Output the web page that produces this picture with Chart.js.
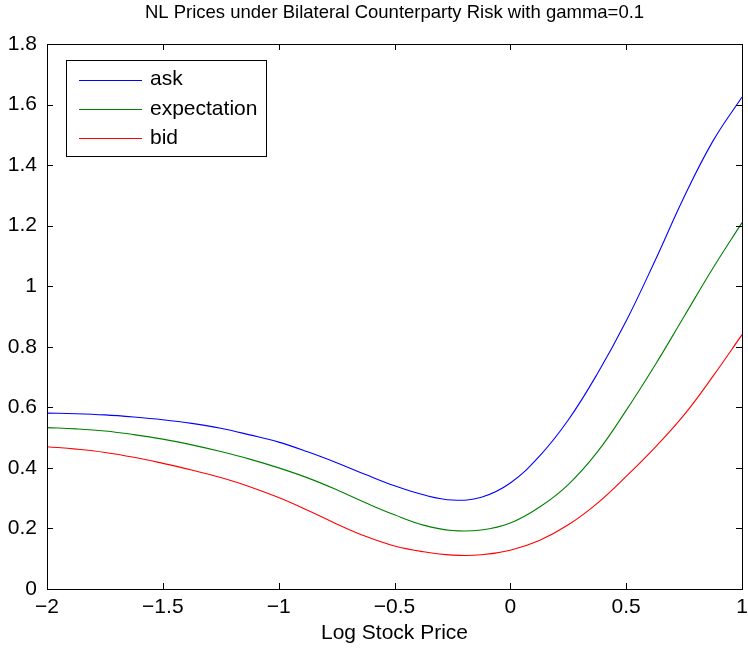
<!DOCTYPE html>
<html>
<head>
<meta charset="utf-8">
<script src="https://cdn.jsdelivr.net/npm/chart.js@4/dist/chart.umd.min.js"></script>
<style>
  html, body { margin: 0; padding: 0; background: #fff; }
  #wrap { width: 748px; height: 649px; }
</style>
</head>
<body>
<div id="wrap"><canvas id="chart" width="748" height="649"></canvas></div>
<script>
// log stock price grid
const logPrice = [-2, -1.875, -1.75, -1.625, -1.5, -1.375, -1.25, -1.125, -1,
  -0.875, -0.75, -0.625, -0.5, -0.375, -0.25, -0.125, 0,
  0.125, 0.25, 0.375, 0.5, 0.625, 0.75, 0.875, 1];

const askPrice = [0.581, 0.579, 0.575, 0.568, 0.559, 0.547, 0.531, 0.509, 0.485,
  0.453, 0.417, 0.378, 0.341, 0.311, 0.294, 0.303, 0.350,
  0.438, 0.558, 0.710, 0.885, 1.085, 1.295, 1.480, 1.625];

const expPrice = [0.533, 0.529, 0.522, 0.510, 0.495, 0.476, 0.454, 0.429, 0.400,
  0.367, 0.328, 0.285, 0.245, 0.211, 0.193, 0.195, 0.218,
  0.270, 0.345, 0.452, 0.590, 0.740, 0.900, 1.060, 1.210];

const bidPrice = [0.470, 0.462, 0.451, 0.435, 0.415, 0.393, 0.368, 0.338, 0.302,
  0.260, 0.215, 0.174, 0.142, 0.123, 0.112, 0.113, 0.128,
  0.160, 0.212, 0.283, 0.372, 0.468, 0.575, 0.703, 0.840];

const seriesNames = ['ask', 'expectation', 'bid'];
const seriesColors = ['#0000ff', '#008000', '#ff0000'];
const titleText = 'NL Prices under Bilateral Counterparty Risk with gamma=0.1';
const xTitle = 'Log Stock Price';

const FONT = '"Liberation Sans", Arial, Helvetica, sans-serif';

function toPoints(ys) {
  return logPrice.map((x, i) => ({ x: x, y: ys[i] }));
}

function fmt(v) {
  const s = String(Number(v.toFixed(2)));
  return s.replace('-', '\u2212');
}

// matlab style box: frame, inward ticks on all sides, title, legend
const matlabAxes = {
  id: 'matlabAxes',
  afterDraw(chart) {
    const ctx = chart.ctx;
    const a = chart.chartArea;
    const xs = chart.scales.x, ys = chart.scales.y;
    const tl = 6;
    ctx.save();
    ctx.strokeStyle = '#000';
    ctx.lineWidth = 1;
    ctx.beginPath();
    xs.ticks.forEach(t => {
      const px = Math.round(xs.getPixelForValue(t.value)) + 0.5;
      ctx.moveTo(px, a.bottom); ctx.lineTo(px, a.bottom - tl);
      ctx.moveTo(px, a.top); ctx.lineTo(px, a.top + tl);
    });
    ys.ticks.forEach(t => {
      const py = Math.round(ys.getPixelForValue(t.value)) + 0.5;
      ctx.moveTo(a.left, py); ctx.lineTo(a.left + tl, py);
      ctx.moveTo(a.right, py); ctx.lineTo(a.right - tl, py);
    });
    ctx.stroke();
    ctx.strokeRect(Math.round(a.left) + 0.5, Math.round(a.top) + 0.5,
      Math.round(a.right - a.left), Math.round(a.bottom - a.top));

    // title
    ctx.fillStyle = '#000';
    ctx.font = '18.5px ' + FONT;
    ctx.textAlign = 'center';
    ctx.textBaseline = 'middle';
    ctx.fillText(titleText, (a.left + a.right) / 2, 13);

    // legend
    const bx = Math.round(a.left) + 19, by = Math.round(a.top) + 16, bw = 200, bh = 96;
    ctx.fillStyle = '#fff';
    ctx.fillRect(bx, by, bw, bh);
    ctx.strokeRect(bx + 0.5, by + 0.5, bw, bh);
    ctx.font = '21px ' + FONT;
    ctx.textAlign = 'left';
    chart.data.datasets.forEach((ds, i) => {
      const ly = by + 19.5 + i * 29.3;
      ctx.strokeStyle = ds.borderColor;
      ctx.beginPath();
      ctx.moveTo(bx + 13, Math.round(ly) + 0.5);
      ctx.lineTo(bx + 76, Math.round(ly) + 0.5);
      ctx.stroke();
      ctx.fillStyle = '#000';
      ctx.fillText(ds.label, bx + 84, ly);
    });
    ctx.restore();
  }
};

new Chart(document.getElementById('chart'), {
  type: 'line',
  data: {
    datasets: [askPrice, expPrice, bidPrice].map((ys, i) => ({
      label: seriesNames[i],
      data: toPoints(ys),
      borderColor: seriesColors[i],
      borderWidth: 1.1,
      pointRadius: 0,
      fill: false,
      tension: 0.4
    }))
  },
  options: {
    responsive: false,
    animation: false,
    layout: { autoPadding: false, padding: { top: 44, right: 6, left: 0, bottom: 0 } },
    plugins: {
      legend: { display: false },
      tooltip: { enabled: false },
      title: { display: false }
    },
    scales: {
      x: {
        type: 'linear',
        min: -2,
        max: 1,
        grid: { display: false, drawTicks: false },
        border: { display: false },
        afterFit(scale) {
          scale.height = 60;
          scale.paddingRight = 0;
          scale.paddingLeft = 0;
        },
        ticks: {
          stepSize: 0.5,
          padding: 6,
          color: '#000',
          font: { family: FONT, size: 21 },
          maxRotation: 0,
          callback: v => fmt(v)
        },
        title: {
          display: true,
          text: xTitle,
          color: '#000',
          font: { family: FONT, size: 21 },
          padding: { top: 0, bottom: 3 }
        }
      },
      y: {
        min: 0,
        max: 1.8,
        grid: { display: false, drawTicks: false },
        border: { display: false },
        afterFit(scale) { scale.width = 47; },
        ticks: {
          stepSize: 0.2,
          padding: 10,
          color: '#000',
          font: { family: FONT, size: 21 },
          callback: v => fmt(v)
        }
      }
    }
  },
  plugins: [matlabAxes]
});
</script>
</body>
</html>
